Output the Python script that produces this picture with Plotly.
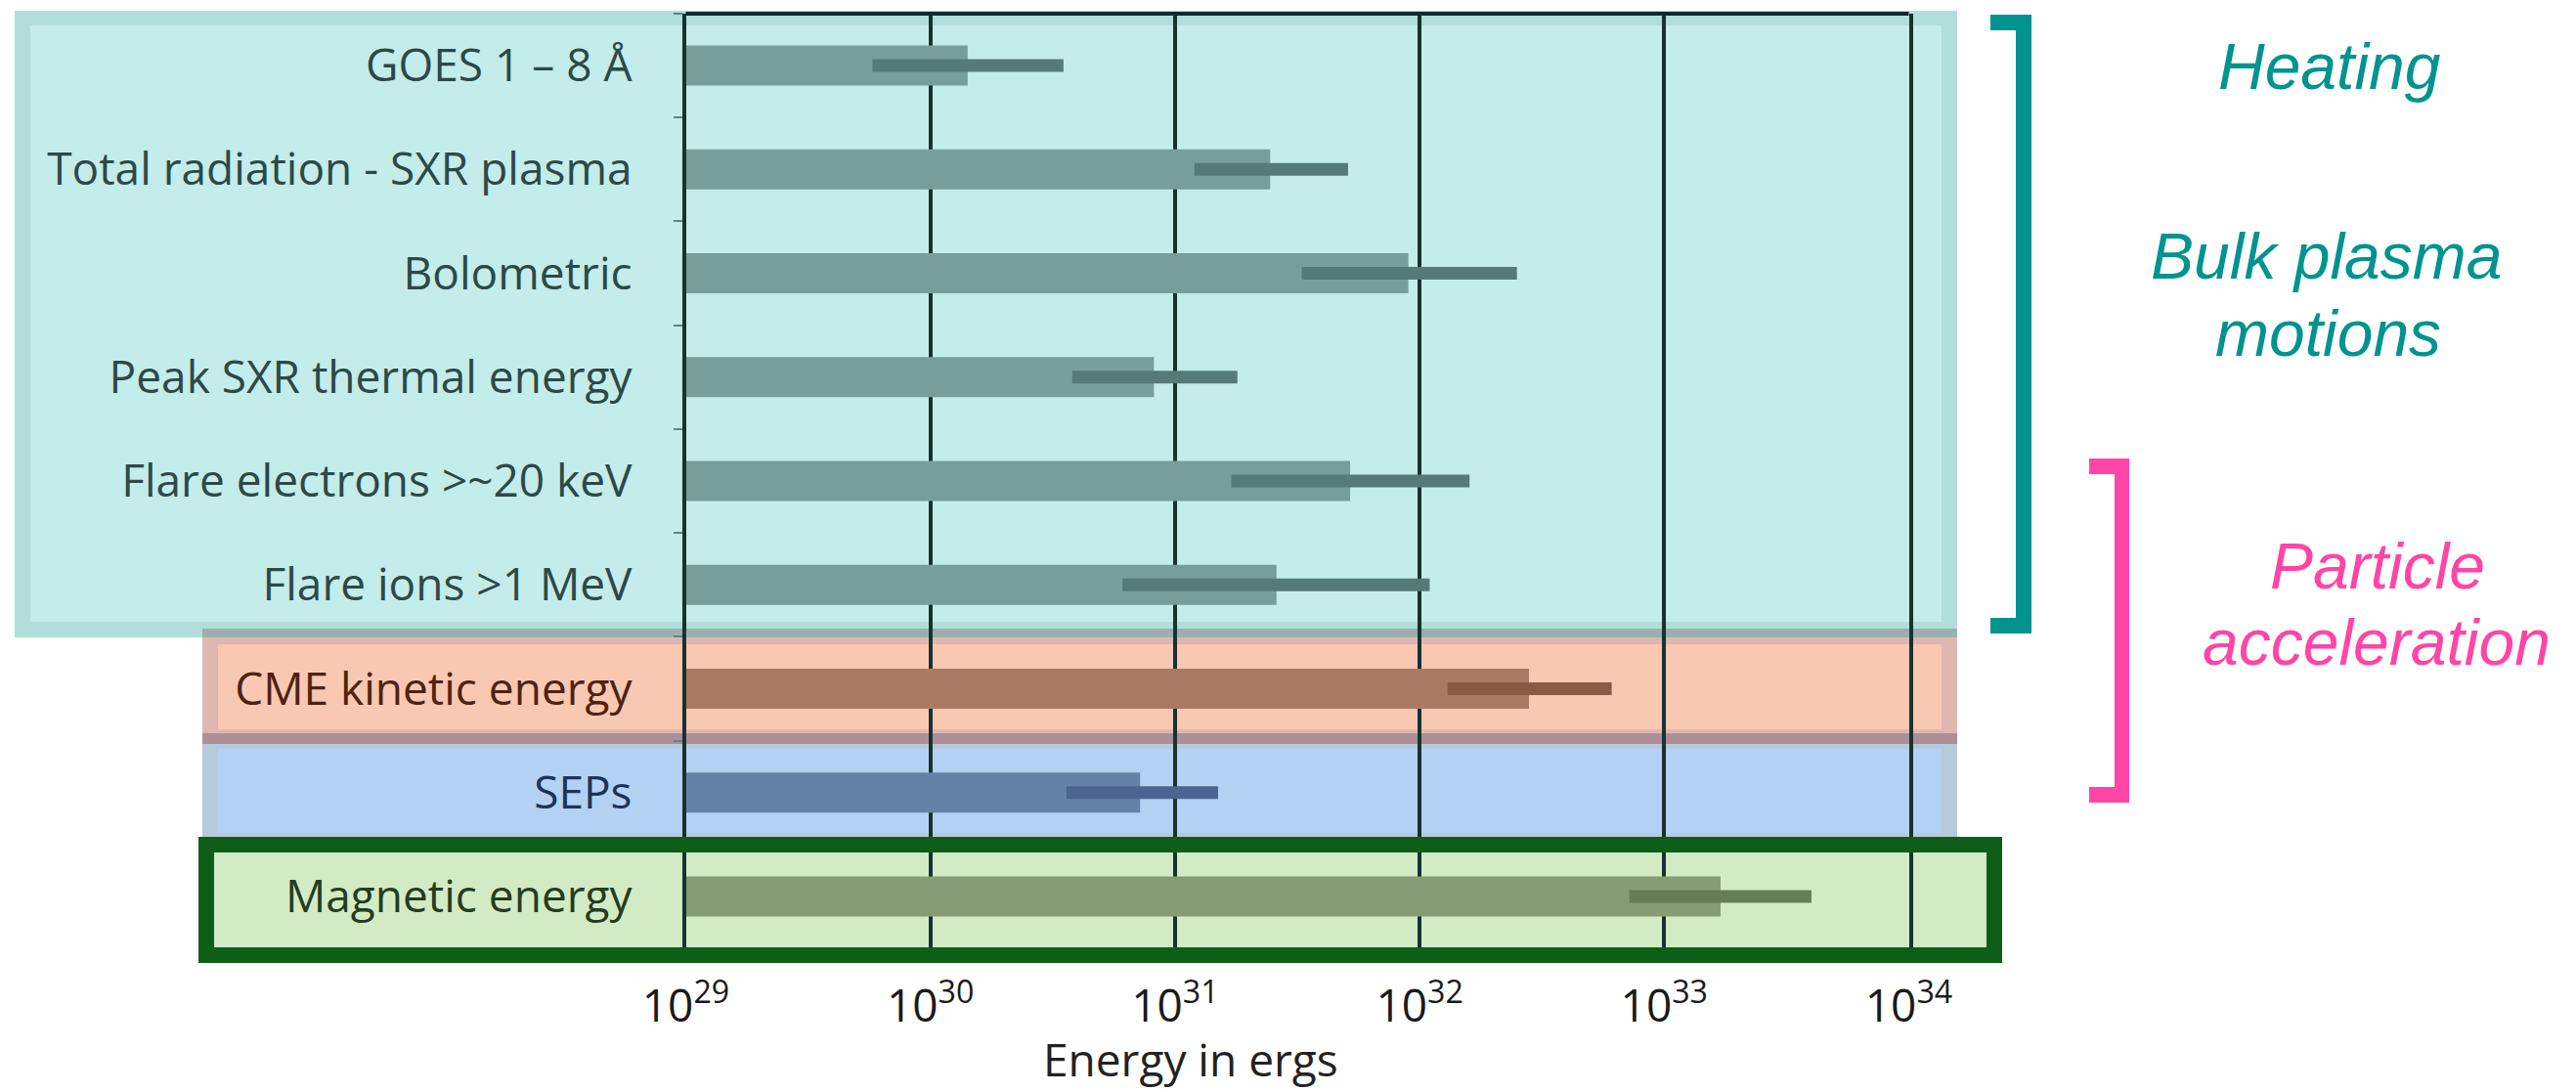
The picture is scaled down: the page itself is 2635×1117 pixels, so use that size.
import plotly.graph_objects as go

W, H = 2635, 1117

# ---------------- data ----------------
categories = [
    "GOES 1 – 8 Å",
    "Total radiation - SXR plasma",
    "Bolometric",
    "Peak SXR thermal energy",
    "Flare electrons >~20 keV",
    "Flare ions >1 MeV",
    "CME kinetic energy",
    "SEPs",
    "Magnetic energy",
]
energy = [1.42e30, 2.45e31, 9.0e31, 8.2e30, 5.2e31, 2.6e31, 2.8e32, 7.2e30, 1.7e33]
energy_low = [5.8e29, 1.2e31, 3.3e31, 3.8e30, 1.7e31, 6.1e30, 1.3e32, 3.6e30, 7.2e32]
energy_high = [3.5e30, 5.1e31, 2.5e32, 1.8e31, 1.6e32, 1.1e32, 6.1e32, 1.5e31, 4.0e33]
group_of = ["flare"] * 6 + ["cme", "sep", "mag"]

tick_values = [1e29, 1e30, 1e31, 1e32, 1e33, 1e34]
tick_labels = ["10<sup>29</sup>", "10<sup>30</sup>", "10<sup>31</sup>",
               "10<sup>32</sup>", "10<sup>33</sup>", "10<sup>34</sup>"]
axis_title = "Energy in ergs"
bar_base = 1e29

# ---------------- styles ----------------
bar_color = {"flare": "#779E9B", "cme": "#A87A62", "sep": "#6482A8", "mag": "#869C76"}
err_color = {"flare": "#557A78", "cme": "#8A5A42", "sep": "#4A6690", "mag": "#667E58"}
text_color = {"flare": "#2C4947", "cme": "#4E2312", "sep": "#1B3358", "mag": "#233D1E"}


def px(x):
    return x / W


def py(y):
    return 1 - y / H


fig = go.Figure()

for g in ["flare", "cme", "sep", "mag"]:
    idx = [i for i, gg in enumerate(group_of) if gg == g]
    fig.add_trace(go.Bar(
        y=[categories[i] for i in idx],
        x=[energy[i] - bar_base for i in idx],
        base=bar_base,
        orientation="h",
        width=0.386,
        marker=dict(color=bar_color[g], line=dict(width=0)),
        error_x=dict(
            type="data",
            symmetric=False,
            array=[energy_high[i] - energy[i] for i in idx],
            arrayminus=[energy[i] - energy_low[i] for i in idx],
            thickness=13,
            width=0,
            color=err_color[g],
        ),
        showlegend=False,
        hoverinfo="skip",
    ))

shapes = []


def rect(x0, y0, x1, y1, color, layer="below"):
    shapes.append(dict(type="rect", xref="paper", yref="paper",
                       x0=px(x0), x1=px(x1), y0=py(y1), y1=py(y0),
                       fillcolor=color, line=dict(width=0), layer=layer))


# Teal box
rect(15, 11, 2002, 652, "#B1DDDB")
rect(31, 26, 1986, 636, "#C3ECEA")
# CME box
rect(207, 643, 2002, 761, "#E0B6B1")
rect(223, 659, 1986, 746, "#F8C8B2")
# SEP box
rect(207, 750, 2002, 856, "#B7CADB")
rect(223, 766, 1986, 852, "#B3D1F3")
# overlap bands
rect(207, 643, 2002, 652, "#9BB0AC")
rect(207, 750, 2002, 761, "#AD8E96")
# Magnetic box fill
rect(203, 856, 2048, 985, "#D3EBC5")
# Magnetic box border (above grid)
shapes.append(dict(type="rect", xref="paper", yref="paper",
                   x0=px(211), x1=px(2040), y0=py(977), y1=py(864),
                   line=dict(color="#0E5E1A", width=16), fillcolor="rgba(0,0,0,0)",
                   layer="above"))
# top frame line of the plot area
shapes.append(dict(type="line", xref="x domain", yref="y domain",
                   x0=0, x1=1, y0=1, y1=1,
                   line=dict(color="#0F2B2A", width=4), layer="above"))

# Brackets
teal = "#00938F"
pink = "#FF45A5"
rect(2062, 15, 2078, 648, teal, "above")
rect(2036, 15, 2078, 31, teal, "above")
rect(2036, 632, 2078, 648, teal, "above")
rect(2163, 469, 2178, 821, pink, "above")
rect(2137, 469, 2178, 485, pink, "above")
rect(2137, 805, 2178, 821, pink, "above")

annotations = []


def note(text, x, y, color, size=66, family="Liberation Sans, Arial, sans-serif"):
    annotations.append(dict(text=text, xref="paper", yref="paper",
                            x=px(x), y=py(y), xanchor="center", yanchor="middle",
                            showarrow=False, font=dict(family=family, size=size, color=color)))


note("<i>Heating</i>", 2383, 68, teal)
note("<i>Bulk plasma</i>", 2380, 262, teal)
note("<i>motions</i>", 2381, 341, teal)
note("<i>Particle</i>", 2432, 579, pink)
note("<i>acceleration</i>", 2431, 657, pink)
note(axis_title, 1218, 1083, "#222222", size=46, family="Open Sans, sans-serif")

ytick_text = [f'<span style="color:{text_color[g]}">{c}</span>' for c, g in zip(categories, group_of)]

fig.update_layout(
    template="none",
    width=W, height=H,
    margin=dict(l=0, r=0, t=0, b=0),
    paper_bgcolor="white",
    plot_bgcolor="rgba(0,0,0,0)",
    barmode="overlay",
    shapes=shapes,
    annotations=annotations,
    font=dict(family="Open Sans, sans-serif"),
    xaxis=dict(
        type="log",
        domain=[px(701.5), px(1952.5)],
        range=[29, 34],
        tickvals=tick_values,
        ticktext=tick_labels,
        showgrid=True, gridcolor="#173230", gridwidth=3.5,
        zeroline=False, showline=False,
        ticks="",
        ticklabelstandoff=28,
        tickfont=dict(family="Open Sans, sans-serif", size=46, color="#1A1A1A"),
        automargin=False,
    ),
    yaxis=dict(
        type="category",
        categoryorder="array", categoryarray=categories,
        tickvals=categories, ticktext=ytick_text,
        range=[len(categories) - 0.5, -0.5],
        domain=[py(970), py(14)],
        showgrid=False, zeroline=False,
        showline=True, mirror=True, linecolor="#173230", linewidth=3.5,
        ticks="outside", ticklen=9, tickwidth=2, tickcolor="#5E8583",
        tickson="boundaries",
        ticklabelstandoff=42,
        tickfont=dict(family="Open Sans, sans-serif", size=46),
        automargin=False,
    ),
)

fig.write_html("out.html")
